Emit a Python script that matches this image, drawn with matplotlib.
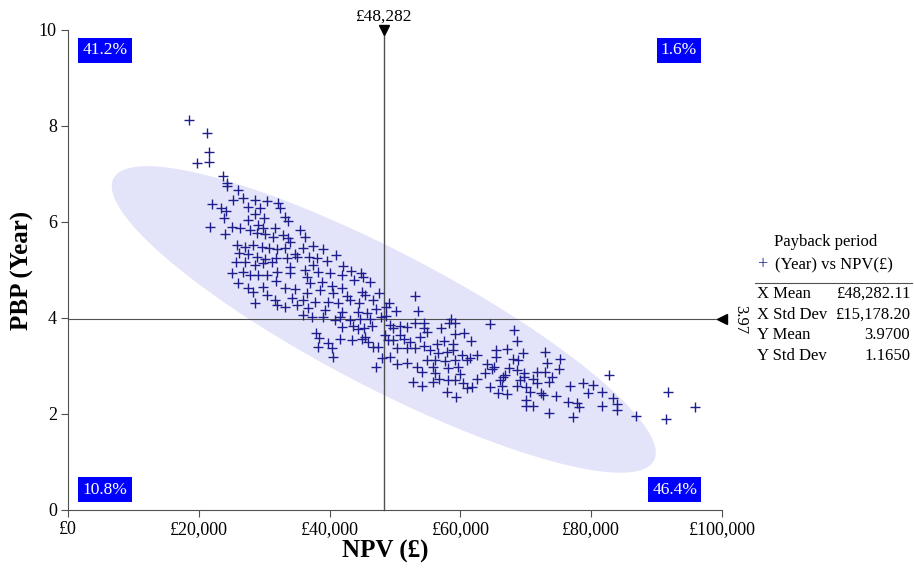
import numpy as np
import matplotlib
matplotlib.use('Agg')
import matplotlib.pyplot as plt
from matplotlib.lines import Line2D
from matplotlib.ticker import FuncFormatter

plt.rcParams['font.family'] = ['Liberation Serif', 'DejaVu Serif']

# Simulated NPV (£) and payback period (years)
npv = [18500, 21200, 21500, 19700, 21500,
       23700, 24300, 24300, 26000, 25200, 26700, 28600, 30400, 32100, 22000,
       23400, 24100, 27500, 29300, 32400, 28600, 30000, 33200, 33600, 23800,
       27500, 21700, 25100, 26300, 27800, 29000, 29800, 31600, 35500, 36200,
       24000, 28900, 30100, 31300, 32900, 33600, 25800, 27100, 28300, 29600,
       30700, 31900, 33200, 33900, 34700, 26100, 27500, 28900, 30100, 31800,
       33500, 35000, 25700, 27100, 28600, 29800, 31200, 33900, 25100, 26700,
       27800, 29000, 30400, 31900, 33900, 26000, 27500, 29800, 31800, 33200,
       34700, 28600, 30400, 31600, 28300, 31900, 33200, 34200, 35000,
       37400, 39000, 41000, 35900, 36800, 38100, 39600, 37400, 36200, 38200,
       40000, 42000, 43200, 44800, 41900, 36500, 37000, 38800, 40300, 41900,
       43700, 45100, 46200, 38500, 40500, 36500, 42600, 44900, 45400, 47500,
       35900, 37700, 39700, 41300, 43100, 44500, 46600, 49100, 53000, 53500,
       50100, 36700, 39300, 41900, 44300, 45700, 47100, 48600, 37300, 39000,
       40800, 41600, 43100, 44600, 46200, 47800, 48600, 35900, 41900, 43600,
       44300, 45200, 46500, 49200, 49700, 50700, 51800, 53000, 37900, 38400,
       39700, 40300, 38200, 40500, 41600, 43400, 44900, 45400, 45800, 46600,
       47400, 48400, 48900, 49700, 50700, 51300, 52300, 50300, 51800, 53000,
       48000, 49200, 50300, 51800, 53300, 47100, 52700,
       58500, 58200, 59100, 64500, 54500, 54400, 57100, 54900, 59100, 60500,
       53800, 57500, 61600, 68200, 68600, 56400, 58800, 54400, 55300, 58800,
       56500, 57900, 60200, 61400, 62500, 65400, 67100, 69500, 65400, 68000,
       68800, 54900, 56100, 57600, 59100, 61000, 64000, 65100, 67500, 68600,
       69800, 71700, 55800, 58100, 59600, 54200, 56100, 59900, 63700, 64900,
       66500, 66800, 69700, 71100, 56800, 58100, 59100, 62500, 66000, 69100,
       54200, 55800, 60400, 64600, 66300, 68600, 70100, 71700, 57900, 61000,
       61700, 65700, 67100, 70600, 59400, 70100, 70000, 71100,
       73000, 73300, 75200, 75000, 72900, 74000, 73500, 72400, 72700, 74600,
       76700, 78700, 80200, 82700, 79500, 81600, 76400, 77800, 78200, 81700,
       83300, 83900, 83900, 73600, 77200, 86800, 91800, 91500, 95800]
pbp = [8.12, 7.85, 7.46, 7.23, 7.25,
       6.96, 6.81, 6.75, 6.67, 6.46, 6.50, 6.46, 6.44, 6.40, 6.38,
       6.29, 6.23, 6.31, 6.29, 6.29, 6.17, 6.08, 6.10, 6.02, 6.08,
       6.04, 5.90, 5.90, 5.88, 5.83, 5.94, 5.88, 5.88, 5.83, 5.69,
       5.75, 5.77, 5.75, 5.69, 5.73, 5.67, 5.52, 5.48, 5.52, 5.48,
       5.46, 5.44, 5.46, 5.58, 5.33, 5.35, 5.33, 5.27, 5.23, 5.25,
       5.25, 5.27, 5.17, 5.17, 5.10, 5.15, 5.17, 5.06, 4.94, 4.96,
       4.90, 4.90, 4.90, 4.96, 4.94, 4.73, 4.63, 4.65, 4.77, 4.63,
       4.60, 4.31, 4.48, 4.38, 4.54, 4.27, 4.23, 4.42, 4.27,
       5.50, 5.44, 5.31, 5.46, 5.27, 5.25, 5.19, 5.10, 5.00, 4.96,
       4.94, 5.08, 4.98, 4.94, 4.90, 4.85, 4.73, 4.75, 4.67, 4.63,
       4.79, 4.85, 4.75, 4.58, 4.52, 4.52, 4.46, 4.54, 4.48, 4.52,
       4.38, 4.33, 4.33, 4.31, 4.38, 4.31, 4.38, 4.31, 4.46, 4.15,
       4.15, 4.21, 4.17, 4.13, 4.13, 4.10, 4.19, 4.23, 4.02, 4.02,
       3.96, 4.02, 3.96, 3.98, 3.98, 4.02, 4.04, 4.06, 3.81, 3.83,
       3.77, 3.79, 3.83, 3.85, 3.79, 3.83, 3.81, 3.90, 3.69, 3.58,
       3.48, 3.38, 3.40, 3.19, 3.56, 3.54, 3.56, 3.60, 3.50, 3.40,
       3.40, 3.65, 3.54, 3.54, 3.65, 3.56, 3.50, 3.38, 3.38, 3.38,
       3.17, 3.19, 3.04, 3.06, 2.98, 2.98, 2.67,
       3.98, 3.90, 3.90, 3.88, 3.90, 3.79, 3.79, 3.71, 3.67, 3.69,
       3.60, 3.52, 3.52, 3.75, 3.52, 3.46, 3.46, 3.42, 3.33, 3.33,
       3.27, 3.29, 3.23, 3.17, 3.23, 3.33, 3.35, 3.27, 3.19, 3.15,
       3.13, 3.13, 3.13, 3.10, 3.13, 3.13, 3.04, 2.98, 2.96, 2.92,
       2.85, 2.88, 2.98, 2.96, 2.98, 2.88, 2.85, 2.83, 2.85, 2.94,
       2.77, 2.81, 2.77, 2.73, 2.73, 2.71, 2.71, 2.73, 2.71, 2.71,
       2.58, 2.67, 2.65, 2.56, 2.58, 2.58, 2.56, 2.65, 2.46, 2.54,
       2.56, 2.44, 2.42, 2.46, 2.35, 2.29, 2.17, 2.17,
       3.29, 3.06, 3.15, 2.94, 2.88, 2.77, 2.67, 2.44, 2.40, 2.38,
       2.58, 2.65, 2.60, 2.81, 2.44, 2.46, 2.25, 2.23, 2.15, 2.17,
       2.33, 2.21, 2.08, 2.02, 1.94, 1.96, 2.46, 1.90, 2.15]

# summary statistics shown in the side panel
x_mean, x_std = 48282.11, 15178.20
y_mean, y_std = 3.97, 1.165
corr = -0.87          # estimated from the ellipse tilt
ell_k = 2.74          # ellipse size in std devs

stat_names = ['X Mean', 'X Std Dev', 'Y Mean', 'Y Std Dev']
stat_values = ['£48,282.11', '£15,178.20', '3.9700', '1.1650']
quad_labels = ['41.2%', '1.6%', '10.8%', '46.4%']

W, H = 914, 571
fig = plt.figure(figsize=(W / 100, H / 100), dpi=100)
ax = fig.add_axes([68 / W, 1 - 510 / H, 654 / W, 480 / H])

# ellipse from covariance
cov = np.array([[x_std ** 2, corr * x_std * y_std],
                [corr * x_std * y_std, y_std ** 2]])
vals, vecs = np.linalg.eigh(cov)
t = np.linspace(0, 2 * np.pi, 300)
circ = np.vstack([np.cos(t), np.sin(t)])
ell = vecs @ np.diag(np.sqrt(vals)) @ circ * ell_k
ax.fill(ell[0] + x_mean, ell[1] + y_mean, color='#E3E3FA', lw=0, zorder=1)

gray = '#505050'
ax.plot([x_mean, x_mean], [0, 10], color=gray, lw=1, zorder=2, clip_on=False)
ax.plot([0, 100000], [y_mean, y_mean], color=gray, lw=0.8, zorder=2, clip_on=False)
ax.plot(x_mean, 10, marker='v', color='black', ms=7, zorder=5, clip_on=False)
ax.plot(100000, y_mean, marker='<', color='black', ms=7, zorder=5, clip_on=False)
ax.text(x_mean, 10.12, '£{:,.0f}'.format(x_mean), ha='center', va='bottom', fontsize=12.5)
ax.text(101500, y_mean, '{:.2f}'.format(y_mean), rotation=270, ha='left', va='center', fontsize=12)

ax.plot(npv, pbp, '+', color='#1E1E8C', ms=6.5, mew=1.0, zorder=3)

ax.set_xlim(0, 100000)
ax.set_ylim(0, 10)
ax.set_xticks(range(0, 100001, 20000))
ax.set_yticks(range(0, 11, 2))
ax.xaxis.set_major_formatter(FuncFormatter(lambda v, p: '£{:,.0f}'.format(v)))
ax.tick_params(length=5, color=gray, labelsize=13, pad=3)
for s in ['top', 'right']:
    ax.spines[s].set_visible(False)
for s in ['left', 'bottom']:
    ax.spines[s].set_color(gray)

# quadrant percentages
box = dict(facecolor='#0000FF', edgecolor='none', boxstyle='square,pad=0.25')
pos = [(0.022, 0.958, 'left'), (0.962, 0.958, 'right'),
       (0.022, 0.042, 'left'), (0.962, 0.042, 'right')]
for (qx, qy, ha), lab in zip(pos, quad_labels):
    ax.text(qx, qy, lab, transform=ax.transAxes, color='white', fontsize=12.5,
            ha=ha, va='center', bbox=box, zorder=6)

fig.text(385 / W, 1 - 551 / H, 'NPV (£)', ha='center', va='center', fontsize=18, fontweight='bold')
fig.text(22 / W, 1 - 270 / H, 'PBP (Year)', ha='center', va='center', rotation=90,
         fontsize=18, fontweight='bold')

# side panel
fig.text(826 / W, 1 - 242 / H, 'Payback period', ha='center', va='center', fontsize=12)
fig.text(762 / W, 1 - 265 / H, '+', ha='center', va='center', fontsize=13, color='#1E1E8C')
fig.text(775 / W, 1 - 265 / H, '(Year) vs NPV(£)', ha='left', va='center', fontsize=12)
fig.add_artist(Line2D([755 / W, 912 / W], [1 - 283 / H, 1 - 283 / H], color=gray, lw=0.8))
for i, (nm, val) in enumerate(zip(stat_names, stat_values)):
    yy = 1 - (294 + i * 20.7) / H
    fig.text(757 / W, yy, nm, ha='left', va='center', fontsize=12)
    fig.text(910 / W, yy, val, ha='right', va='center', fontsize=12)

fig.savefig('out.png', dpi=100)
